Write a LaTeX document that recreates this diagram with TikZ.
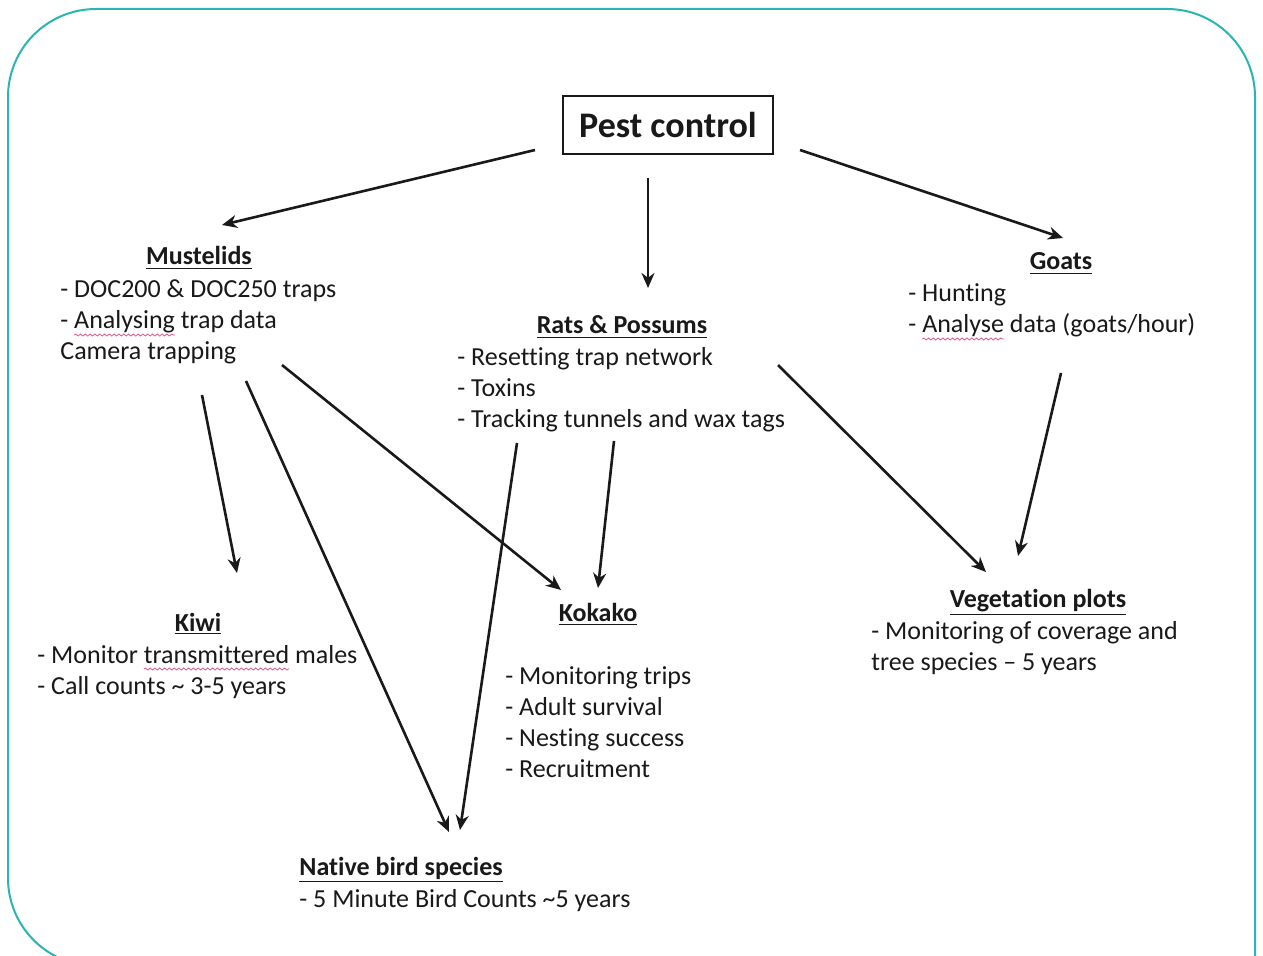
\documentclass[tikz,border=0pt]{standalone}
\usepackage{fontspec}
\setmainfont{Carlito}[Ligatures=NoCommon]
\usetikzlibrary{arrows.meta,decorations.pathmorphing}
\definecolor{teal1}{RGB}{40,182,178}
\definecolor{spell}{RGB}{228,90,130}
\definecolor{ink}{RGB}{25,25,25}
\newsavebox\spbox
\newlength\splen
\newcommand\spellerr[1]{\sbox\spbox{#1}\setlength\splen{\wd\spbox}\rlap{\tikz[overlay,x=1pt,y=1pt]\draw[draw=spell,line width=0.4pt,decorate,decoration={snake,amplitude=0.5pt,segment length=2.4pt}] (0pt,-3pt) -- (\splen,-3pt);}#1}
\newcommand\hd[1]{\underline{\textbf{#1}}}
\tikzset{
  hdnode/.style={anchor=base, inner sep=0pt, text=ink},
  bodynode/.style={anchor=base west, align=left, inner sep=0pt, text=ink},
  arr/.style={-{Stealth[length=7.5pt,width=6.5pt]}, line width=1.3pt, draw=ink},
  frame/.style={draw=teal1, line width=1pt, rounded corners=44pt}
}
\begin{document}
\begin{tikzpicture}[x=0.5pt,y=-0.5pt,font=\fontsize{13}{15.5}\selectfont]
\useasboundingbox (0,0) rectangle (1263,956);
\clip (0,0) rectangle (1263,956);
\fill[white] (0,0) rectangle (1263,956);
\draw[frame] (1255,1000) -- (1255,9) -- (8,9) -- (8,966) -- (300,966);

\node[draw=ink, line width=0.6pt, minimum width=105pt, minimum height=29pt, inner sep=0pt,
      font=\fontsize{18}{20}\selectfont\bfseries, text=ink] (pest) at (668,125) {Pest control};

% base anchor of a multi-line node = baseline of its last line
\node[hdnode] (mustH) at (199,265) {\hd{Mustelids}};
\node[bodynode] (mustB) at (60,360) {- DOC200 \& DOC250 traps\\- \spellerr{Analysing} trap data\\Camera trapping};

\node[hdnode] (ratsH) at (622,334) {\hd{Rats \& Possums}};
\node[bodynode] (ratsB) at (457,428) {- Resetting trap network\\- Toxins\\- Tracking tunnels and wax tags};

\node[hdnode] (goatH) at (1061,270) {\hd{Goats}};
\node[bodynode] (goatB) at (908,333) {- Hunting\\- \spellerr{Analyse} data (goats/hour)};

\node[hdnode] (kiwiH) at (198,631) {\hd{Kiwi}};
\node[bodynode] (kiwiB) at (37,694) {- Monitor \spellerr{transmittered} males\\- Call counts \textasciitilde\ 3-5 years};

\node[hdnode] (kokH) at (598,621) {\hd{Kokako}};
\node[bodynode] (kokB) at (505,777) {- Monitoring trips\\- Adult survival\\- Nesting success\\- Recruitment};

\node[hdnode] (vegH) at (1038,607) {\hd{Vegetation plots}};
\node[bodynode] (vegB) at (871,670) {- Monitoring of coverage and\\tree species -- 5 years};

\node[hdnode, anchor=base west] (natH) at (299,875) {\hd{Native bird species}};
\node[bodynode] (natB) at (299,907) {- 5 Minute Bird Counts \textasciitilde 5 years};

% connector end points
\coordinate (p1) at (535,150); \coordinate (m1) at (222,225);
\coordinate (p2) at (648,178); \coordinate (r1) at (648,288);
\coordinate (p3) at (800,150); \coordinate (g1) at (1063,238);
\coordinate (m2) at (202,395); \coordinate (k1) at (237,573);
\coordinate (m3) at (246,381); \coordinate (n1) at (449,832);
\coordinate (m4) at (282,365); \coordinate (ko1) at (561,590);
\coordinate (r2) at (517,443); \coordinate (n2) at (460,830);
\coordinate (r3) at (614,441); \coordinate (ko2) at (598,588);
\coordinate (r4) at (778,365); \coordinate (v1) at (986,572);
\coordinate (g2) at (1061,373); \coordinate (v2) at (1018,556);

\draw[arr] (p1) -- (m1);
\draw[arr] (p2) -- (r1);
\draw[arr] (p3) -- (g1);
\draw[arr] (m2) -- (k1);
\draw[arr] (m3) -- (n1);
\draw[arr] (m4) -- (ko1);
\draw[arr] (r2) -- (n2);
\draw[arr] (r3) -- (ko2);
\draw[arr] (r4) -- (v1);
\draw[arr] (g2) -- (v2);
\end{tikzpicture}
\end{document}
